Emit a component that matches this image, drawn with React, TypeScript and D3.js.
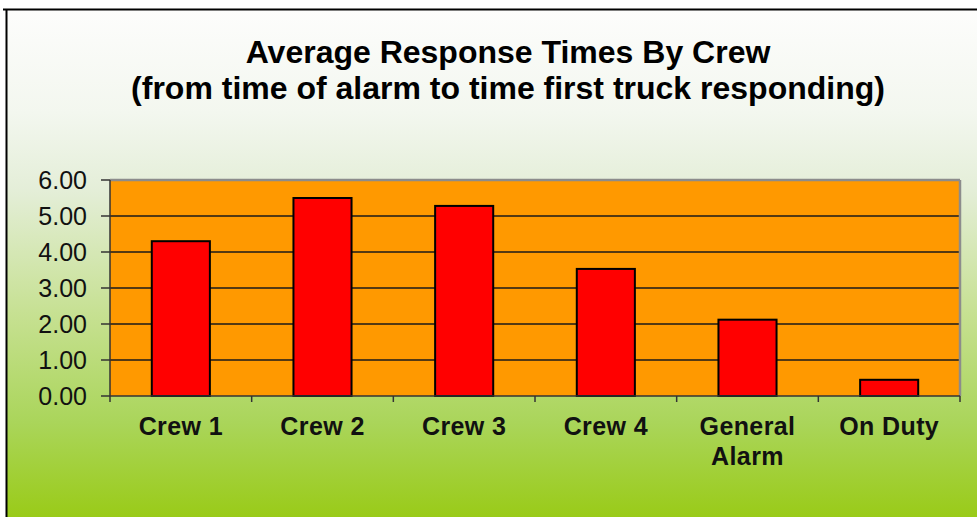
import React from "react";
import * as d3 from "d3";

const categories: string[][] = [["Crew 1"], ["Crew 2"], ["Crew 3"], ["Crew 4"], ["General", "Alarm"], ["On Duty"]];
const values: number[] = [4.3, 5.5, 5.28, 3.53, 2.12, 0.45];
const yTicks: number[] = [0, 1, 2, 3, 4, 5, 6];
const titleLines: string[] = ["Average Response Times By Crew", "(from time of alarm to time first truck responding)"];

const W = 977;
const H = 517;
const plot = { left: 110, right: 960, top: 180, bottom: 396 };
const FONT = "'Liberation Sans', Arial, sans-serif";

export default function App() {
  const x = d3
    .scaleBand<number>()
    .domain(d3.range(categories.length))
    .range([plot.left, plot.right])
    .paddingInner(0.59)
    .paddingOuter(0.295);
  const band = d3.scaleBand<number>().domain(d3.range(categories.length)).range([plot.left, plot.right]);
  const y = d3.scaleLinear().domain([0, 6]).range([plot.bottom, plot.top]);

  return (
    <svg width={W} height={H} style={{ position: "absolute", left: 0, top: 0 }}>
      <defs>
        <linearGradient id="bg" x1="0" y1="0" x2="0" y2="1">
          <stop offset="0" stopColor="#fdfdfc" />
          <stop offset="0.2" stopColor="#f3f7ef" />
          <stop offset="0.35" stopColor="#e4eed8" />
          <stop offset="0.6" stopColor="#c5e08f" />
          <stop offset="0.8" stopColor="#aad55a" />
          <stop offset="1" stopColor="#98ca12" />
        </linearGradient>
      </defs>
      <rect x={0} y={0} width={W} height={H} fill="#ffffff" />
      <rect x={7} y={9} width={W} height={H} fill="url(#bg)" />
      <line x1={3} x2={W} y1={9.5} y2={9.5} stroke="#000" strokeWidth={2} />
      <line x1={6.5} x2={6.5} y1={9} y2={H} stroke="#000" strokeWidth={2} />

      {titleLines.map((t, i) => (
        <text
          key={i}
          x={508}
          y={63 + i * 36}
          textAnchor="middle"
          fontFamily={FONT}
          fontWeight="bold"
          fontSize={32}
          fill="#000"
        >
          {t}
        </text>
      ))}

      <rect
        x={plot.left}
        y={plot.top}
        width={plot.right - plot.left}
        height={plot.bottom - plot.top}
        fill="#ff9900"
      />
      {yTicks.slice(1).map((t) => (
        <line key={t} x1={plot.left} x2={plot.right} y1={y(t)} y2={y(t)} stroke="#1a1a1a" strokeWidth={1.5} />
      ))}
      <line x1={plot.left} x2={plot.right} y1={plot.top} y2={plot.top} stroke="#8c8c8c" strokeWidth={2.5} />
      <line x1={plot.right} x2={plot.right} y1={plot.top} y2={plot.bottom} stroke="#8c8c8c" strokeWidth={2.5} />

      {values.map((v, i) => (
        <rect
          key={i}
          x={x(i)}
          y={y(v)}
          width={x.bandwidth()}
          height={y(0) - y(v)}
          fill="#ff0000"
          stroke="#000"
          strokeWidth={2}
        />
      ))}

      <line x1={plot.left} x2={plot.left} y1={plot.top} y2={plot.bottom} stroke="#333" strokeWidth={1.5} />
      <line x1={plot.left} x2={plot.right} y1={plot.bottom} y2={plot.bottom} stroke="#333" strokeWidth={1.5} />
      {yTicks.map((t) => (
        <g key={t}>
          <line x1={plot.left - 9} x2={plot.left} y1={y(t)} y2={y(t)} stroke="#333" strokeWidth={1.5} />
          <text
            x={87}
            y={y(t)}
            dy="0.36em"
            textAnchor="end"
            fontFamily={FONT}
            fontSize={25}
            fill="#111"
          >
            {t.toFixed(2)}
          </text>
        </g>
      ))}
      {d3.range(categories.length + 1).map((i) => {
        const xx = i < categories.length ? (band(i) as number) : plot.right;
        return <line key={i} x1={xx} x2={xx} y1={plot.bottom} y2={plot.bottom + 6} stroke="#333" strokeWidth={1.5} />;
      })}
      {categories.map((lines, i) => (
        <text
          key={i}
          x={(band(i) as number) + band.bandwidth() / 2}
          y={435}
          textAnchor="middle"
          fontFamily={FONT}
          fontWeight="bold"
          fontSize={25}
          letterSpacing={0.4}
          fill="#111"
        >
          {lines.map((l, j) => (
            <tspan key={j} x={(band(i) as number) + band.bandwidth() / 2} dy={j === 0 ? 0 : 30}>
              {l}
            </tspan>
          ))}
        </text>
      ))}
    </svg>
  );
}
